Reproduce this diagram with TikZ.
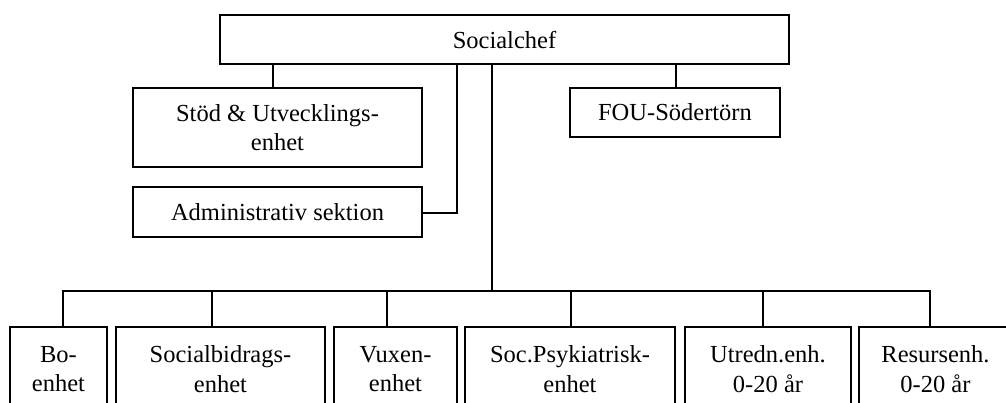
\documentclass[tikz,border=0pt]{standalone}
\usepackage{fontspec}
\setmainfont{Liberation Serif}
\begin{document}
\begin{tikzpicture}[x=1pt,y=-1pt,
  box/.style={draw,line width=1.8pt,inner sep=0pt,outer sep=0pt,align=center,
    font=\fontsize{24.5}{29.5}\selectfont},
  conn/.style={line width=1.8pt}]
\useasboundingbox (0,0) rectangle (1006,402);
\clip (0,0) rectangle (1006,402);
% top level
\node[box,minimum width=569pt,minimum height=49pt] (chef) at (504.5,39.5) {Socialchef};
\node[box,minimum width=289pt,minimum height=79pt] (stod) at (277.5,127.5) {Stöd \& Utvecklings-\\enhet};
\node[box,minimum width=289pt,minimum height=50pt] (adm) at (277.5,212) {Administrativ sektion};
\node[box,minimum width=210pt,minimum height=49pt] (fou) at (675,112.5) {FOU-Södertörn};
% bottom level
\node[box,minimum width=97pt,minimum height=84pt] (bo) at (58.5,369) {Bo-\\enhet};
\node[box,minimum width=209pt,minimum height=84pt] (soc) at (220.5,369) {Socialbidrags-\\enhet};
\node[box,minimum width=123pt,minimum height=84pt] (vux) at (395.5,369) {Vuxen-\\enhet};
\node[box,minimum width=210pt,minimum height=84pt] (psyk) at (570,369) {Soc.Psykiatrisk-\\enhet};
\node[box,minimum width=166pt,minimum height=84pt] (utr) at (768,369) {Utredn.enh.\\0-20 år};
\node[box,minimum width=153pt,minimum height=84pt] (res) at (935.5,369) {Resursenh.\\0-20 år};
% connectors
\coordinate (a1) at (273,0);
\coordinate (a2) at (457,213);
\coordinate (a3) at (676,0);
\coordinate (j0) at (492,291);
\draw[conn] (chef.south -| a1) -- (stod.north -| a1);
\draw[conn] (chef.south -| a2) -- (a2) -- (adm.east |- a2);
\draw[conn] (chef.south -| a3) -- (fou.north -| a3);
\draw[conn] (chef.south -| j0) -- (j0);
\coordinate (b1) at (63,291);
\coordinate (b2) at (212,291);
\coordinate (b3) at (387,291);
\coordinate (b4) at (571,291);
\coordinate (b5) at (763,291);
\coordinate (b6) at (930,291);
\draw[conn] (bo.north -| b1) -- (b1) -- (b6) -- (res.north -| b6);
\foreach \n/\c in {soc/b2,vux/b3,psyk/b4,utr/b5}
  \draw[conn] (\c) -- (\n.north -| \c);
\end{tikzpicture}
\end{document}
